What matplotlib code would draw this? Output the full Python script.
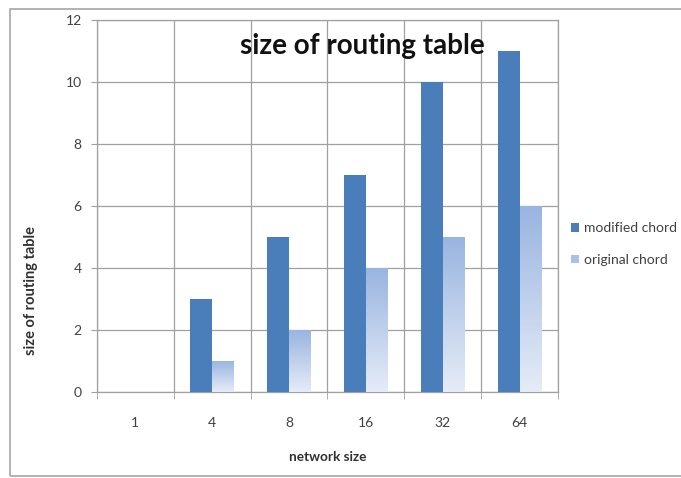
import matplotlib.pyplot as plt
import numpy as np
from matplotlib.patches import Rectangle
from matplotlib.colors import LinearSegmentedColormap

categories = ['1', '4', '8', '16', '32', '64']
modified_chord = [0, 3, 5, 7, 10, 11]
original_chord = [0, 1, 2, 4, 5, 6]
yticks = [0, 2, 4, 6, 8, 10, 12]

plt.rcParams['font.family'] = ['Lato', 'DejaVu Sans']

fig = plt.figure(figsize=(6.81, 4.78), dpi=100)
ax = fig.add_axes([0.1424, 0.1799, 0.677, 0.779])

# outer chart frame
fig.add_artist(Rectangle((10 / 681, 0.004), 1.2, 0.978, transform=fig.transFigure,
                         fill=False, edgecolor='#a6a6a6', linewidth=1.2))

x = np.arange(len(categories))
w = 0.286
mod = ax.bar(x - w / 2, modified_chord, w, color='#4a7ebb', zorder=3,
             label='modified chord')
orig = ax.bar(x + w / 2, original_chord, w, color='#a9c1e8', zorder=3,
              label='original chord')

# vertical gradient for original chord bars, darker at top
grad = np.linspace(0, 1, 256).reshape(-1, 1)
cmap = LinearSegmentedColormap.from_list('g', ['#e6ecf7', '#98b4e0'])
for b in orig:
    if b.get_height() <= 0:
        continue
    b.set_facecolor('none')
    x0, y0 = b.get_x(), b.get_y()
    im = ax.imshow(grad, cmap=cmap, aspect='auto', zorder=3,
                   extent=[x0, x0 + b.get_width(), y0, y0 + b.get_height()],
                   origin='lower', vmin=0, vmax=1)
    im.set_clip_path(b)

ax.set_xlim(-0.5, len(categories) - 0.5)
ax.set_ylim(0, 12)
ax.set_yticks(yticks)
ax.set_xticks(x)
ax.set_xticklabels(categories)
ax.set_xticks(np.arange(-0.5, len(categories)), minor=True)

ax.grid(True, axis='y', color='#a0a0a0', linewidth=0.9, zorder=0)
ax.grid(True, axis='x', which='minor', color='#a0a0a0', linewidth=0.9, zorder=0)
ax.tick_params(axis='x', which='major', length=0, pad=18, labelsize=10,
               colors='#404040')
ax.tick_params(axis='x', which='minor', length=5, color='#a0a0a0')
ax.tick_params(axis='y', length=4, color='#a0a0a0', labelsize=10,
               colors='#404040', pad=7)
for s in ax.spines.values():
    s.set_color('#a0a0a0')
    s.set_linewidth(0.9)

ax.set_xlabel('network size', fontsize=9.8, fontweight='bold', color='#303030')
ax.xaxis.set_label_coords(0.5, -0.158)
ax.set_ylabel('size of routing table', fontsize=10.5, fontweight='bold',
              color='#303030')
ax.yaxis.set_label_coords(-0.128, 0.273)
ax.text(0.575, 0.93, 'size of routing table', transform=ax.transAxes,
        ha='center', va='center', fontsize=20, fontweight='bold', color='#111111')

ax.legend(loc='center left', bbox_to_anchor=(1.0, 0.397), frameon=False,
          fontsize=10, handlelength=0.6, handleheight=0.6, handletextpad=0.4,
          labelspacing=1.4, labelcolor='#404040')

fig.savefig('out.png', dpi=100)
